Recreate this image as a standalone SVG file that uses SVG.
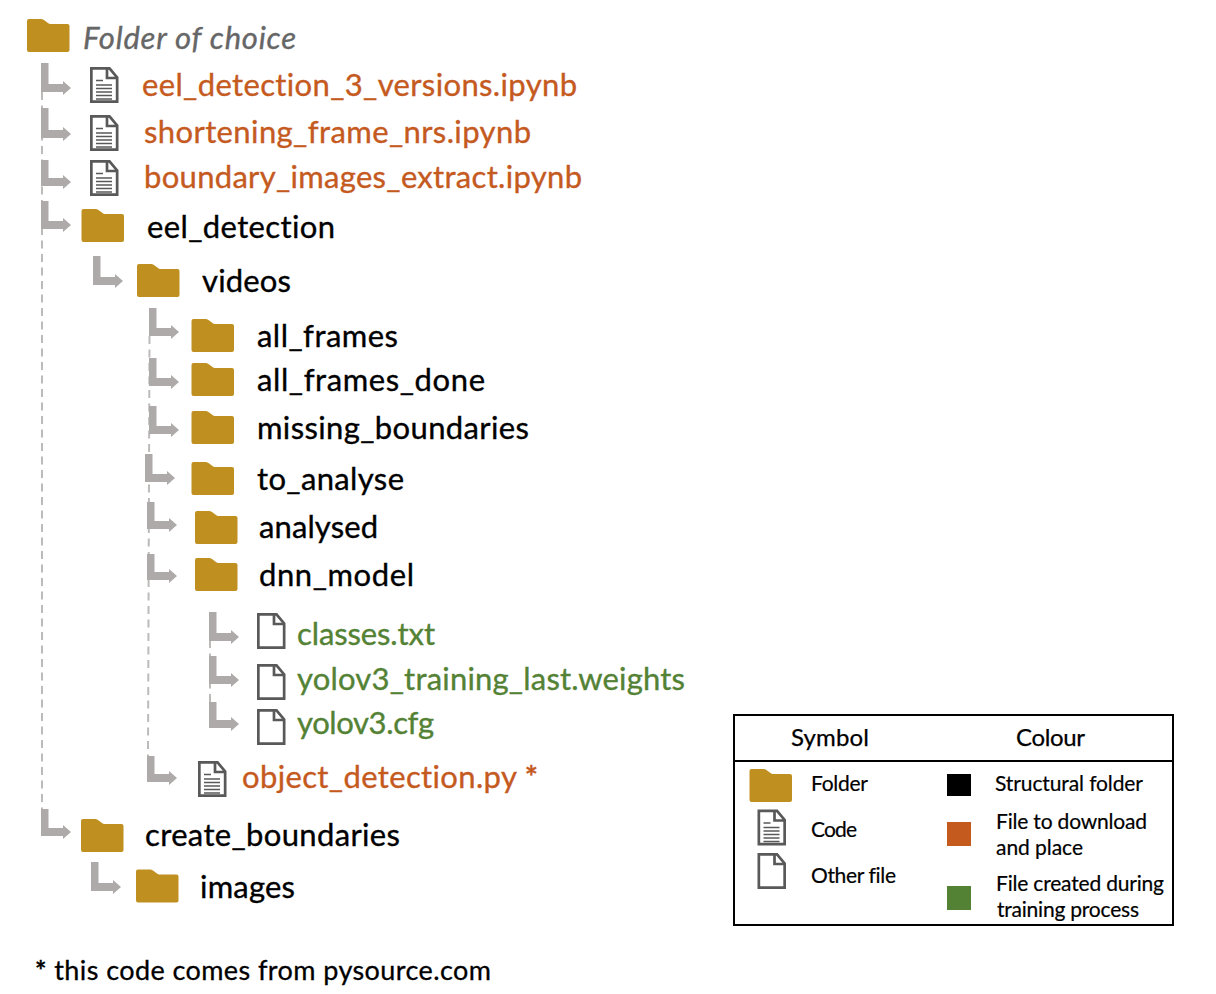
<svg xmlns="http://www.w3.org/2000/svg" width="1216" height="994" viewBox="0 0 1216 994">
<style>
text{font-family:"Lato","Liberation Sans",sans-serif;font-size:31px;fill:#000;stroke:#000;stroke-width:.35;font-variant-ligatures:none}
.o{fill:#c55a1f;stroke:#c55a1f}.g{fill:#548235;stroke:#548235}
.r{fill:#666;stroke:#666;font-style:italic}
.l{font-size:21px;stroke-width:.2}
.h{font-size:24px;stroke-width:.25}
.n{font-size:27px;stroke-width:.3}
.a{font-weight:700}
.e{fill:#aeaaaa}
.d{stroke:#bdbaba;stroke-width:2;stroke-dasharray:8 5.5;fill:none}
.i{fill:none;stroke:#595959;stroke-width:2.7;stroke-linejoin:miter}
.t{stroke:#595959;stroke-width:1.7;fill:none}
.f{fill:#bf9020}
</style>
<defs>
<path id="folder" class="f" d="M2 0H14Q15.500 0 17 1L21 4Q22 5 23.500 5H40.500Q42.500 5 42.500 7V31Q42.500 33 40.500 33H2Q0 33 0 31V2Q0 0 2 0Z"/>
<path id="file" class="i" d="M1.350 1.350H19.500L27.150 10.500V34.650H1.350ZM17 1.350V11H27.150"/>
<g id="code"><use href="#file"/><path class="t" d="M6 13.500H13M6 18H22M6 21.500H22M6 25H22M6 28.500H22M6 32H22"/></g>
<path id="el22" class="e" d="M0 0H7.500V18H22V15L30 22L22 29V26H0Z"/>
<path id="el23" class="e" d="M0 0H7.500V19H22V16L30 23L22 30V27H0Z"/>
<path id="el24" class="e" d="M0 0H7.500V20H22V17L30 24L22 31V28H0Z"/>
<path id="el25" class="e" d="M0 0H7.500V21H22V18L30 25L22 32V29H0Z"/>
<path id="el26" class="e" d="M0 0H7.500V22H22V19L30 26L22 33V30H0Z"/>
</defs>
<rect width="1216" height="994" fill="#fff"/>
<g id="connectors">
<path class="d" d="M42 92V809"/>
<path class="d" d="M149.500 336L148 757"/>
<path class="d" d="M210 640V702"/>
<use href="#el25" x="41" y="63"/><use href="#el26" x="41" y="108"/><use href="#el22" x="41" y="160"/><use href="#el24" x="41" y="201"/>
<use href="#el25" x="93" y="256"/>
<use href="#el24" x="149" y="308"/><use href="#el24" x="149" y="358"/><use href="#el24" x="149" y="406"/><use href="#el24" x="145" y="454"/><use href="#el23" x="147" y="502"/><use href="#el22" x="147" y="554"/>
<use href="#el25" x="209" y="612"/><use href="#el24" x="209" y="656"/><use href="#el22" x="209" y="702"/>
<use href="#el22" x="147" y="756"/>
<use href="#el23" x="41" y="809"/><use href="#el25" x="91" y="862"/>
</g>
<g id="root"><use href="#folder" x="27" y="19"/><text class="r" x="83" y="49" textLength="213">Folder of choice</text></g>
<g id="n1"><use href="#code" x="90" y="67"/><text class="o" x="142" y="96" textLength="435">eel_detection_3_versions.ipynb</text></g>
<g id="n2"><use href="#code" x="90" y="115"/><text class="o" x="144" y="143" textLength="387">shortening_frame_nrs.ipynb</text></g>
<g id="n3"><use href="#code" x="90" y="160"/><text class="o" x="144" y="188" textLength="438">boundary_images_extract.ipynb</text></g>
<g id="n4"><use href="#folder" x="81.500" y="209"/><text x="147" y="238" textLength="188">eel_detection</text></g>
<g id="n5"><use href="#folder" x="137" y="264"/><text x="202" y="292" textLength="89">videos</text></g>
<g id="n6"><use href="#folder" x="191.500" y="319"/><text x="257" y="347" textLength="141">all_frames</text></g>
<g id="n7"><use href="#folder" x="191.500" y="363"/><text x="257" y="391" textLength="228">all_frames_done</text></g>
<g id="n8"><use href="#folder" x="191.500" y="411"/><text x="257" y="439" textLength="272">missing_boundaries</text></g>
<g id="n9"><use href="#folder" x="191.500" y="462"/><text x="257" y="490" textLength="147">to_analyse</text></g>
<g id="n10"><use href="#folder" x="195" y="511"/><text x="259" y="538" textLength="119">analysed</text></g>
<g id="n11"><use href="#folder" x="195" y="558"/><text x="259" y="586" textLength="155">dnn_model</text></g>
<g id="n12"><use href="#file" x="257" y="613"/><text class="g" x="297" y="645" textLength="138">classes.txt</text></g>
<g id="n13"><use href="#file" x="257" y="664"/><text class="g" x="297" y="690" textLength="388">yolov3_training_last.weights</text></g>
<g id="n14"><use href="#file" x="257" y="709"/><text class="g" x="297" y="734" textLength="137">yolov3.cfg</text></g>
<g id="n15"><use href="#code" x="198" y="761"/><text class="o" x="242" y="788" textLength="296">object_detection.py <tspan class="a">*</tspan></text></g>
<g id="n16"><use href="#folder" x="81" y="819"/><text x="145" y="846" textLength="255">create_boundaries</text></g>
<g id="n17"><use href="#folder" x="136" y="869.500"/><text x="200" y="898" textLength="95">images</text></g>
<text id="note" class="n" x="35" y="980" textLength="456"><tspan class="a">*</tspan> this code comes from pysource.com</text>
<g id="legend">
<path fill="none" stroke="#000" stroke-width="2" d="M734 715H1173V925H734ZM734 761H1173"/>
<text class="h" x="791" y="746" textLength="78">Symbol</text>
<text class="h" x="1016" y="746" textLength="69">Colour</text>
<use href="#folder" x="749.500" y="769"/>
<use href="#code" x="757.500" y="809.500"/>
<use href="#file" x="757.500" y="853"/>
<text class="l" x="811" y="791" textLength="57">Folder</text>
<text class="l" x="811" y="837" textLength="46">Code</text>
<text class="l" x="811" y="883" textLength="85">Other file</text>
<rect x="947" y="774" width="24" height="22" fill="#000"/>
<rect x="947" y="822" width="24" height="24" fill="#c55a1f"/>
<rect x="947" y="886" width="24" height="24" fill="#548235"/>
<text class="l" x="995" y="791" textLength="148">Structural folder</text>
<text class="l" x="996" y="829" textLength="151">File to download</text>
<text class="l" x="996" y="855" textLength="87">and place</text>
<text class="l" x="996" y="891" textLength="168">File created during</text>
<text class="l" x="997" y="917" textLength="142">training process</text>
</g>
</svg>
